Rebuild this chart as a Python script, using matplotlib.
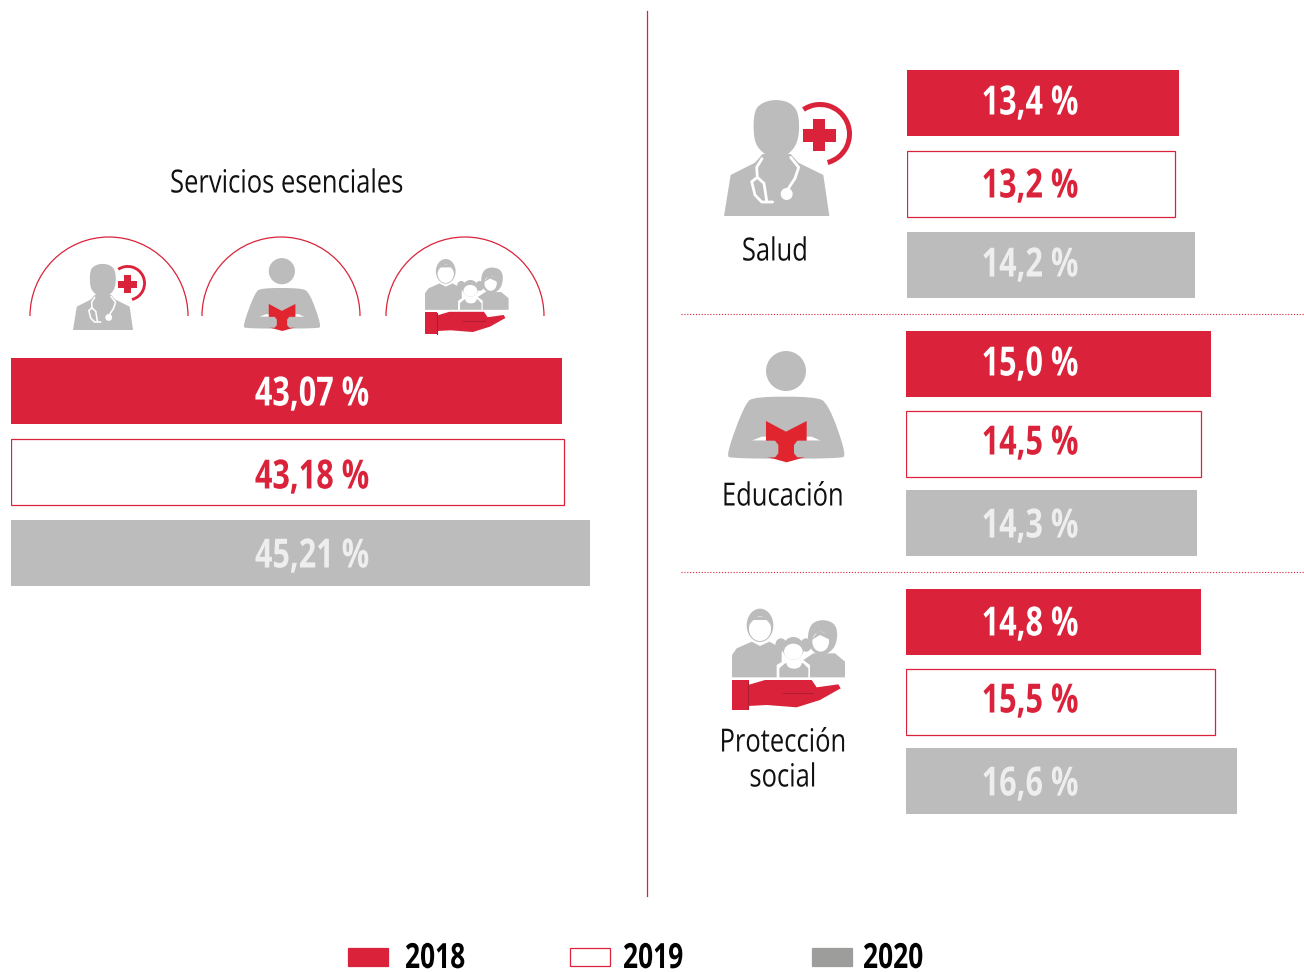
import matplotlib
matplotlib.use("Agg")
import matplotlib.pyplot as plt
from matplotlib.patches import Circle, Ellipse, Polygon, Rectangle, Wedge, Arc
from matplotlib.patheffects import AbstractPathEffect
from matplotlib.transforms import Affine2D
import numpy as np

W, H = 1304, 972
RED = "#da233a"
GRAY = "#bcbcbc"
LEGEND_GRAY = "#9d9d9c"
FONT = ["Open Sans", "DejaVu Sans"]

years = ["2018", "2019", "2020"]
title = "Servicios esenciales"
total = [43.07, 43.18, 45.21]
total_labels = ["43,07 %", "43,18 %", "45,21 %"]
salud = [13.4, 13.2, 14.2]
salud_labels = ["13,4 %", "13,2 %", "14,2 %"]
educacion = [15.0, 14.5, 14.3]
educacion_labels = ["15,0 %", "14,5 %", "14,3 %"]
proteccion = [14.8, 15.5, 16.6]
proteccion_labels = ["14,8 %", "15,5 %", "16,6 %"]


class Squeeze(AbstractPathEffect):
    # no condensed face installed, so narrow the glyphs around the anchor
    def __init__(self, x, f):
        super().__init__()
        self.x = x
        self.f = f

    def draw_path(self, renderer, gc, tpath, affine, rgbFace=None):
        t = affine + Affine2D().translate(-self.x, 0).scale(self.f, 1).translate(self.x, 0)
        renderer.draw_path(gc, tpath, t, rgbFace)


fig = plt.figure(figsize=(W / 100, H / 100), dpi=100)

# overlay in pixel coordinates for icons, rules and text
ov = fig.add_axes([0, 0, 1, 1], zorder=5)
ov.set_xlim(0, W)
ov.set_ylim(H, 0)
ov.axis("off")
ov.patch.set_alpha(0)


def write(x, y, s, size=23, f=0.8, ha="center", weight="normal", color="#111111"):
    ov.text(x, y, s, ha=ha, va="center", family=FONT, fontsize=size, fontweight=weight,
            color=color, path_effects=[Squeeze(x, f)])


def panel(left, top, pitch, values, labels, label_x, label_ys, px_per_unit):
    # one axes per group of three bars, scaled in percent
    bar_h = 66
    width = 660
    ax = fig.add_axes([left / W, 1 - (top + 3 * pitch) / H, width / W, 3 * pitch / H])
    ax.set_xlim(0, width / px_per_unit)
    ax.set_ylim(2.5, -0.5)
    ax.axis("off")
    h = bar_h / pitch
    ax.barh(0, values[0], height=h, color=RED)
    ax.barh(1, values[1], height=h, color="white", edgecolor=RED, linewidth=0.9)
    ax.barh(2, values[2], height=h, color=GRAY)
    colors = ["white", RED, "#eeeeee"]
    for lab, y, c in zip(labels, label_ys, colors):
        write(label_x, y + 3, lab, size=29, f=0.76, weight="bold", color=c)


panel(11, 350.5, 81, total, total_labels, 312, [392, 475, 554], 12.8)
panel(907, 62.5, 81, salud, salud_labels, 1030, [101, 184, 263], 20.3)
panel(906.5, 324.5, 79.5, educacion, educacion_labels, 1030, [362, 441, 524], 20.3)
panel(906.5, 582.5, 79.5, proteccion, proteccion_labels, 1030, [622, 699, 782], 19.92)


def smooth(pts, n=3):
    # corner cutting, keeps the icon outlines soft
    p = np.array(pts, dtype=float)
    for _ in range(n):
        a = p * 0.75 + np.roll(p, -1, axis=0) * 0.25
        b = p * 0.25 + np.roll(p, -1, axis=0) * 0.75
        p = np.empty((len(a) * 2, 2))
        p[0::2] = a
        p[1::2] = b
    return p


def doctor(x0, y0, s):
    k = s / 3
    m = lambda pts: np.array(pts, dtype=float) * k + [x0, y0]
    head = [(160, 170), (162, 90), (190, 66), (230, 58), (272, 68), (296, 98),
            (298, 165), (282, 210), (230, 245), (176, 210)]
    ov.add_patch(Polygon(m(smooth(head)), color=GRAY, lw=0))
    body = [(72, 408), (92, 285), (165, 248), (188, 222), (272, 222), (295, 248),
            (370, 285), (388, 408)]
    ov.add_patch(Polygon(m(body), color=GRAY, lw=0))
    lw = 2.0 * s
    left = np.array([(186, 236), (170, 262), (172, 292), (155, 305), (165, 345),
                     (185, 366), (218, 366)])
    right = np.array([(272, 232), (296, 262), (285, 295), (262, 330)])
    loop = np.array([(172, 292), (192, 310), (200, 362)])
    for line in (left, right, loop):
        xy = m(line)
        ov.plot(xy[:, 0], xy[:, 1], color="white", lw=lw, solid_capstyle="round")
    ov.add_patch(Ellipse(m([(260, 342)])[0], 36 * k, 36 * k, color="white", lw=0))
    c = m([(360, 162)])[0]
    ov.add_patch(Wedge(c, 96 * k, -124, 75, width=15 * k, color=RED, lw=0))
    ov.add_patch(Rectangle(m([(308, 148)])[0], 99 * k, 37 * k, color=RED, lw=0))
    ov.add_patch(Rectangle(m([(340, 117)])[0], 35 * k, 96 * k, color=RED, lw=0))


def reader(x0, y0, s):
    k = s / 3
    m = lambda pts: np.array(pts, dtype=float) * k + [x0, y0]
    ov.add_patch(Circle(m([(258, 93)])[0], 60 * k, color=GRAY, lw=0))
    body = [(78, 345), (135, 190), (165, 170), (345, 170), (385, 190), (440, 345), (420, 356), (95, 356)]
    ov.add_patch(Polygon(m(smooth(body, 2)), color=GRAY, lw=0))
    ov.add_patch(Polygon(m([(155, 302), (185, 290), (335, 290), (362, 302)]), color="white", lw=0))
    book = [(198, 243), (258, 275), (320, 243), (320, 350), (260, 367), (198, 350)]
    ov.add_patch(Polygon(m(book), color="#e1252f", lw=0))
    arm_l = [(150, 302), (225, 302), (235, 315), (235, 340), (225, 352), (150, 352)]
    arm_r = [(360, 302), (292, 302), (282, 315), (282, 340), (292, 352), (360, 352)]
    ov.add_patch(Polygon(m(arm_l), color=GRAY, lw=0))
    ov.add_patch(Polygon(m(arm_r), color=GRAY, lw=0))


def family(x0, y0, s):
    k = s / 3
    m = lambda pts: np.array(pts, dtype=float) * k + [x0, y0]
    def ell(c, rx, ry, col):
        ov.add_patch(Ellipse(m([c])[0], 2 * rx * k, 2 * ry * k, color=col, lw=0))
    # man
    man = [(66, 232), (66, 165), (80, 145), (125, 125), (150, 138), (178, 125),
           (215, 145), (215, 232)]
    ov.add_patch(Polygon(m(man), color=GRAY, lw=0))
    ell((150, 76), 40, 50, GRAY)
    ell((150, 86), 33, 37, "white")
    ov.add_patch(Polygon(m([(118, 75), (130, 50), (170, 50), (182, 75), (170, 60), (130, 60)]),
                         color=GRAY, lw=0))
    # woman
    woman = [(280, 232), (280, 180), (310, 160), (375, 160), (405, 185), (405, 232)]
    ov.add_patch(Polygon(m(woman), color=GRAY, lw=0))
    hair = [(292, 105), (305, 68), (340, 58), (375, 70), (384, 105), (372, 150),
            (330, 170), (298, 145)]
    ov.add_patch(Polygon(m(smooth(hair, 2)), color=GRAY, lw=0))
    ell((332, 125), 25, 30, "white")
    ov.add_patch(Polygon(m([(305, 120), (325, 92), (362, 105), (362, 120), (330, 105)]), color=GRAY, lw=0))
    # girl
    ov.add_patch(Polygon(m([(200, 235), (200, 195), (225, 180), (280, 180), (300, 195), (300, 235)]),
                         color="white", lw=0))
    ov.add_patch(Polygon(m([(208, 232), (208, 205), (225, 190), (280, 190), (295, 205), (295, 232)]),
                         color=GRAY, lw=0))
    ell((252, 192), 22, 14, "white")
    ell((250, 145), 32, 34, GRAY)
    ell((213, 135), 17, 20, GRAY)
    ell((288, 135), 17, 20, GRAY)
    ell((250, 155), 28, 24, "white")
    # hand
    ov.add_patch(Rectangle(m([(66, 240)])[0], 50 * k, 90 * k, color=RED, lw=0))
    hand = [(114, 255), (165, 240), (305, 240), (320, 262), (385, 253), (392, 265),
            (330, 300), (260, 322), (170, 315), (114, 318)]
    ov.add_patch(Polygon(m(hand), color=RED, lw=0))
    for line in ([(220, 278), (310, 278)], [(115, 245), (115, 328)]):
        xy = m(line)
        ov.plot(xy[:, 0], xy[:, 1], color="#b01c30", lw=0.8)


doctor(700, 80, 1)
reader(700, 340, 1)
family(710, 600, 1)
doctor(73 - 72 * 0.57 / 3, 330 - 408 * 0.57 / 3, 0.57)
reader(243 - 80 * 0.655 / 3, 331 - 367 * 0.655 / 3, 0.655)
family(425 - 66 * 0.74 / 3, 334 - 330 * 0.74 / 3, 0.74)

# arches above the small icons
for cx in (109, 281, 465):
    ov.add_patch(Arc((cx, 316), 158, 158, theta1=180, theta2=360, color=RED, lw=0.9))

# rules
ov.plot([647, 647], [11, 896], color=RED, lw=0.9)
for y in (314.5, 572):
    ov.plot([681, 1304], [y, y], color=RED, lw=0.8, ls=(0, (1, 1.6)))

write(287, 184, title)
write(775, 252, "Salud")
write(783, 497, "Educación")
write(783, 743, "Protección")
write(783, 778, "social")

# legend
swatches = [(348, RED, RED), (569.5, "white", RED), (812, LEGEND_GRAY, LEGEND_GRAY)]
label_x = [405, 623, 863]
for (x, fc, ec), lx, yr in zip(swatches, label_x, years):
    ov.add_patch(Rectangle((x, 948), 40, 18, facecolor=fc, edgecolor=ec, lw=0.9))
    write(lx, 959, yr, size=25, f=0.76, ha="left", weight="bold", color="black")

fig.savefig("out.png", dpi=100)
